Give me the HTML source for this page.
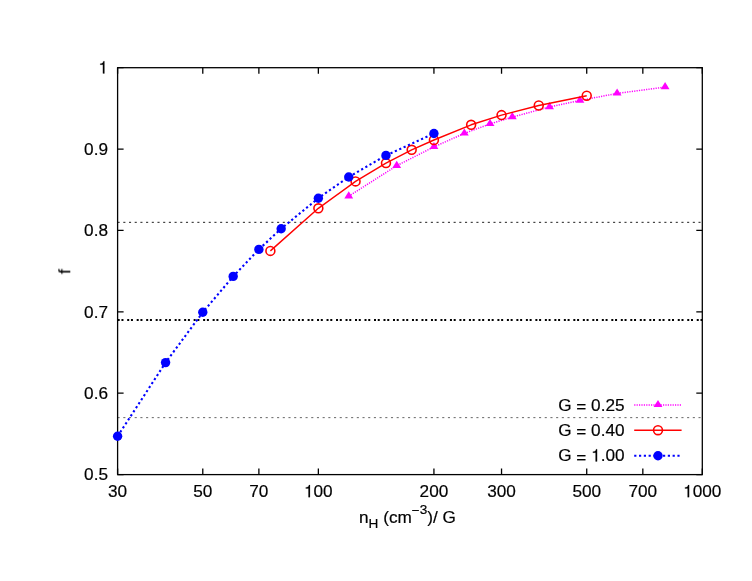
<!DOCTYPE html>
<html><head><meta charset="utf-8"><title>plot</title>
<style>html,body{margin:0;padding:0;background:#fff;}svg{display:block;}text{font-family:"Liberation Sans",sans-serif;fill:#000;stroke:#000;stroke-width:0.2px;}.h{fill:none;stroke:none;}</style>
</head><body>
<svg width="752" height="581" viewBox="0 0 752 581">
<rect x="0" y="0" width="752" height="581" fill="#ffffff"/>
<g opacity="0.999">
<line x1="117.6" y1="222.32" x2="702.3" y2="222.32" stroke="#000" stroke-width="0.9" stroke-dasharray="2.1 3.595"/>
<line x1="117.6" y1="417.63" x2="702.3" y2="417.63" stroke="#555" stroke-width="0.9" stroke-dasharray="2.1 3.595"/>
<line x1="117.69999999999999" y1="319.98" x2="702.3" y2="319.98" stroke="#000" stroke-width="2" stroke-dasharray="2 1.75 2 3.7425"/>
<path d="M117.6 67.70h6M702.3 67.70h-6" stroke="#000" stroke-width="1.3" fill="none"/>
<path d="M117.6 149.08h6M702.3 149.08h-6" stroke="#000" stroke-width="1.3" fill="none"/>
<path d="M117.6 230.46h6M702.3 230.46h-6" stroke="#000" stroke-width="1.3" fill="none"/>
<path d="M117.6 311.84h6M702.3 311.84h-6" stroke="#000" stroke-width="1.3" fill="none"/>
<path d="M117.6 393.22h6M702.3 393.22h-6" stroke="#000" stroke-width="1.3" fill="none"/>
<path d="M117.6 474.60h6M702.3 474.60h-6" stroke="#000" stroke-width="1.3" fill="none"/>
<path d="M117.60 474.6v-6M117.60 67.7v6" stroke="#000" stroke-width="1.3" fill="none"/>
<path d="M202.78 474.6v-6M202.78 67.7v6" stroke="#000" stroke-width="1.3" fill="none"/>
<path d="M258.88 474.6v-6M258.88 67.7v6" stroke="#000" stroke-width="1.3" fill="none"/>
<path d="M318.36 474.6v-6M318.36 67.7v6" stroke="#000" stroke-width="1.3" fill="none"/>
<path d="M433.93 474.6v-6M433.93 67.7v6" stroke="#000" stroke-width="1.3" fill="none"/>
<path d="M501.54 474.6v-6M501.54 67.7v6" stroke="#000" stroke-width="1.3" fill="none"/>
<path d="M586.72 474.6v-6M586.72 67.7v6" stroke="#000" stroke-width="1.3" fill="none"/>
<path d="M642.83 474.6v-6M642.83 67.7v6" stroke="#000" stroke-width="1.3" fill="none"/>
<path d="M702.30 474.6v-6M702.30 67.7v6" stroke="#000" stroke-width="1.3" fill="none"/>
<rect x="117.6" y="67.7" width="584.6999999999999" height="406.90000000000003" fill="none" stroke="#000" stroke-width="1.3"/>
<text x="98.44" y="73.40" font-size="17.2" xml:space="preserve"><tspan class="h">1</tspan></text>
<path transform="translate(98.44,73.40) scale(0.01720,-0.01720)" d="M347 0V709H289C258 600 238 585 102 568V505H259V0Z" fill="#000" stroke="#000" stroke-width="11.6"/>
<text x="84.09" y="154.78" font-size="17.2" xml:space="preserve">0.9</text>
<text x="84.09" y="236.16" font-size="17.2" xml:space="preserve">0.8</text>
<text x="84.09" y="317.54" font-size="17.2" xml:space="preserve">0.7</text>
<text x="84.09" y="398.92" font-size="17.2" xml:space="preserve">0.6</text>
<text x="84.09" y="480.30" font-size="17.2" xml:space="preserve">0.5</text>
<text x="108.04" y="497.20" font-size="17.2" xml:space="preserve">30</text>
<text x="193.21" y="497.20" font-size="17.2" xml:space="preserve">50</text>
<text x="249.32" y="497.20" font-size="17.2" xml:space="preserve">70</text>
<text x="304.01" y="497.20" font-size="17.2" xml:space="preserve"><tspan class="h">1</tspan>00</text>
<path transform="translate(304.01,497.20) scale(0.01720,-0.01720)" d="M347 0V709H289C258 600 238 585 102 568V505H259V0Z" fill="#000" stroke="#000" stroke-width="11.6"/>
<text x="419.59" y="497.20" font-size="17.2" xml:space="preserve">200</text>
<text x="487.20" y="497.20" font-size="17.2" xml:space="preserve">300</text>
<text x="572.38" y="497.20" font-size="17.2" xml:space="preserve">500</text>
<text x="628.48" y="497.20" font-size="17.2" xml:space="preserve">700</text>
<text x="683.17" y="497.20" font-size="17.2" xml:space="preserve"><tspan class="h">1</tspan>000</text>
<path transform="translate(683.17,497.20) scale(0.01720,-0.01720)" d="M347 0V709H289C258 600 238 585 102 568V505H259V0Z" fill="#000" stroke="#000" stroke-width="11.6"/>
<text x="359" y="522.7" font-size="17.2">n<tspan font-size="13.6" dy="5.5">H</tspan><tspan dy="-5.5"> (cm</tspan><tspan font-size="13.6" dy="-7.4">−</tspan><tspan font-size="13.6" dy="-1.3">3</tspan><tspan dy="8.7">)/ G</tspan></text>
<text transform="translate(70.3,271.5) rotate(-90)" font-size="17.2" text-anchor="middle">f</text>
<polyline points="348.76,196.20 396.73,165.70 433.93,146.90 464.34,133.40 490.04,123.90 512.31,117.10 549.51,107.00 579.91,100.50 617.12,93.40 665.09,87.10" fill="none" stroke="#ff00ff" stroke-width="1.5" stroke-dasharray="1.2 1.2"/>
<path d="M348.76 191.22L344.31 198.42L353.21 198.42Z" fill="#ff00ff"/>
<path d="M396.73 160.72L392.28 167.92L401.18 167.92Z" fill="#ff00ff"/>
<path d="M433.93 141.92L429.48 149.12L438.38 149.12Z" fill="#ff00ff"/>
<path d="M464.34 128.42L459.89 135.62L468.79 135.62Z" fill="#ff00ff"/>
<path d="M490.04 118.92L485.59 126.12L494.49 126.12Z" fill="#ff00ff"/>
<path d="M512.31 112.12L507.86 119.32L516.76 119.32Z" fill="#ff00ff"/>
<path d="M549.51 102.02L545.06 109.22L553.96 109.22Z" fill="#ff00ff"/>
<path d="M579.91 95.52L575.46 102.72L584.36 102.72Z" fill="#ff00ff"/>
<path d="M617.12 88.42L612.67 95.62L621.57 95.62Z" fill="#ff00ff"/>
<path d="M665.09 82.12L660.64 89.32L669.54 89.32Z" fill="#ff00ff"/>
<polyline points="270.39,250.90 318.36,208.30 355.56,181.40 385.97,163.10 411.67,149.80 433.93,140.00 471.14,124.80 501.54,115.10 538.75,105.50 586.72,95.70" fill="none" stroke="#ff0000" stroke-width="1.45" stroke-linejoin="round"/>
<circle cx="270.39" cy="250.90" r="4.45" fill="none" stroke="#ff0000" stroke-width="1.6"/>
<circle cx="318.36" cy="208.30" r="4.45" fill="none" stroke="#ff0000" stroke-width="1.6"/>
<circle cx="355.56" cy="181.40" r="4.45" fill="none" stroke="#ff0000" stroke-width="1.6"/>
<circle cx="385.97" cy="163.10" r="4.45" fill="none" stroke="#ff0000" stroke-width="1.6"/>
<circle cx="411.67" cy="149.80" r="4.45" fill="none" stroke="#ff0000" stroke-width="1.6"/>
<circle cx="433.93" cy="140.00" r="4.45" fill="none" stroke="#ff0000" stroke-width="1.6"/>
<circle cx="471.14" cy="124.80" r="4.45" fill="none" stroke="#ff0000" stroke-width="1.6"/>
<circle cx="501.54" cy="115.10" r="4.45" fill="none" stroke="#ff0000" stroke-width="1.6"/>
<circle cx="538.75" cy="105.50" r="4.45" fill="none" stroke="#ff0000" stroke-width="1.6"/>
<circle cx="586.72" cy="95.70" r="4.45" fill="none" stroke="#ff0000" stroke-width="1.6"/>
<polyline points="117.60,436.30 165.57,362.60 202.78,312.30 233.18,276.40 258.88,249.40 281.15,228.70 318.36,198.20 348.76,177.00 385.97,155.40 433.93,133.50" fill="none" stroke="#0000ff" stroke-width="2.1" stroke-dasharray="2.2 2.6"/>
<circle cx="117.60" cy="436.30" r="4.7" fill="#0000ff"/>
<circle cx="165.57" cy="362.60" r="4.7" fill="#0000ff"/>
<circle cx="202.78" cy="312.30" r="4.7" fill="#0000ff"/>
<circle cx="233.18" cy="276.40" r="4.7" fill="#0000ff"/>
<circle cx="258.88" cy="249.40" r="4.7" fill="#0000ff"/>
<circle cx="281.15" cy="228.70" r="4.7" fill="#0000ff"/>
<circle cx="318.36" cy="198.20" r="4.7" fill="#0000ff"/>
<circle cx="348.76" cy="177.00" r="4.7" fill="#0000ff"/>
<circle cx="385.97" cy="155.40" r="4.7" fill="#0000ff"/>
<circle cx="433.93" cy="133.50" r="4.7" fill="#0000ff"/>
<text x="558.14" y="410.50" font-size="17.2" xml:space="preserve">G <tspan dy="1.35">=</tspan><tspan dy="-1.35"> </tspan>0.25</text>
<text x="558.14" y="435.80" font-size="17.2" xml:space="preserve">G <tspan dy="1.35">=</tspan><tspan dy="-1.35"> </tspan>0.40</text>
<text x="558.14" y="461.40" font-size="17.2" xml:space="preserve">G <tspan dy="1.35">=</tspan><tspan dy="-1.35"> </tspan><tspan class="h">1</tspan>.00</text>
<path transform="translate(591.13,461.40) scale(0.01720,-0.01720)" d="M347 0V709H289C258 600 238 585 102 568V505H259V0Z" fill="#000" stroke="#000" stroke-width="11.6"/>
<line x1="634.2" y1="404.9" x2="681.6" y2="404.9" stroke="#ff00ff" stroke-width="1.5" stroke-dasharray="1.2 1.2"/>
<path d="M658.00 399.92L653.55 407.12L662.45 407.12Z" fill="#ff00ff"/>
<line x1="634.2" y1="430.2" x2="681.6" y2="430.2" stroke="#ff0000" stroke-width="1.45"/>
<circle cx="658" cy="430.2" r="4.45" fill="none" stroke="#ff0000" stroke-width="1.6"/>
<line x1="634.2" y1="455.8" x2="681.6" y2="455.8" stroke="#0000ff" stroke-width="2.1" stroke-dasharray="2.2 2.6"/>
<circle cx="658" cy="455.8" r="4.7" fill="#0000ff"/>
</g></svg></body></html>
